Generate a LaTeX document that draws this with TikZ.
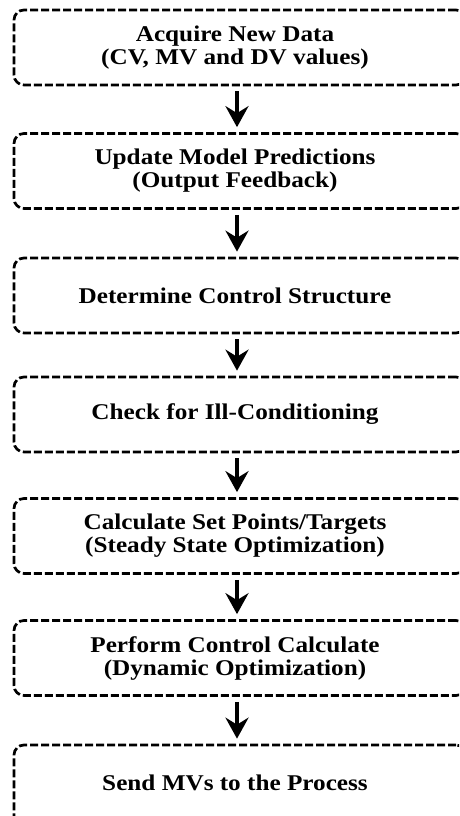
\documentclass[tikz,border=0pt]{standalone}
\usepackage{fontspec}
\setmainfont{Liberation Serif}[FakeStretch=1.12]
\usetikzlibrary{arrows.meta}
\begin{document}
\begin{tikzpicture}[x=1pt,y=1pt,
  stepbox/.style={draw=black, line width=2.7pt, dash pattern=on 8pt off 3pt,
    rounded corners=10pt, minimum width=452pt, minimum height=75pt, inner sep=0pt},
  steptext/.style={font=\bfseries\fontsize{22.5}{23}\selectfont, align=center, inner sep=0pt},
  flowarrow/.style={line width=4.8pt, -{Stealth[length=21pt,width=23pt,inset=7pt]},
    shorten <=5pt, shorten >=5pt}]
\useasboundingbox (0,0) rectangle (459,-816);
\clip (0,0) rectangle (459,-816);
\node[stepbox] (b1) at (240,-47.5) {};
\node[stepbox] (b2) at (240,-171) {};
\node[stepbox] (b3) at (240,-295.5) {};
\node[stepbox] (b4) at (240,-414.5) {};
\node[stepbox] (b5) at (240,-536) {};
\node[stepbox] (b6) at (240,-658) {};
\node[stepbox, minimum height=84pt] (b7) at (240,-787) {};
\node[steptext] (t1) at (235,-48) {Acquire New Data\\(CV, MV and DV values)};
\node[steptext] (t2) at (235,-171) {Update Model Predictions\\(Output Feedback)};
\node[steptext] (t3) at (235,-295.5) {Determine Control Structure};
\node[steptext] (t4) at (235,-414.5) {Check for Ill-Conditioning};
\node[steptext] (t5) at (235,-536) {Calculate Set Points/Targets\\(Steady State Optimization)};
\node[steptext] (t6) at (235,-658) {Perform Control Calculate\\(Dynamic Optimization)};
\node[steptext] (t7) at (235,-783) {Send MVs to the Process};
\foreach \a/\b in {b1/b2,b2/b3,b3/b4,b4/b5,b5/b6,b6/b7}
  \draw[flowarrow] ([xshift=-3pt]\a.south) -- ([xshift=-3pt]\b.north);
\end{tikzpicture}
\end{document}
